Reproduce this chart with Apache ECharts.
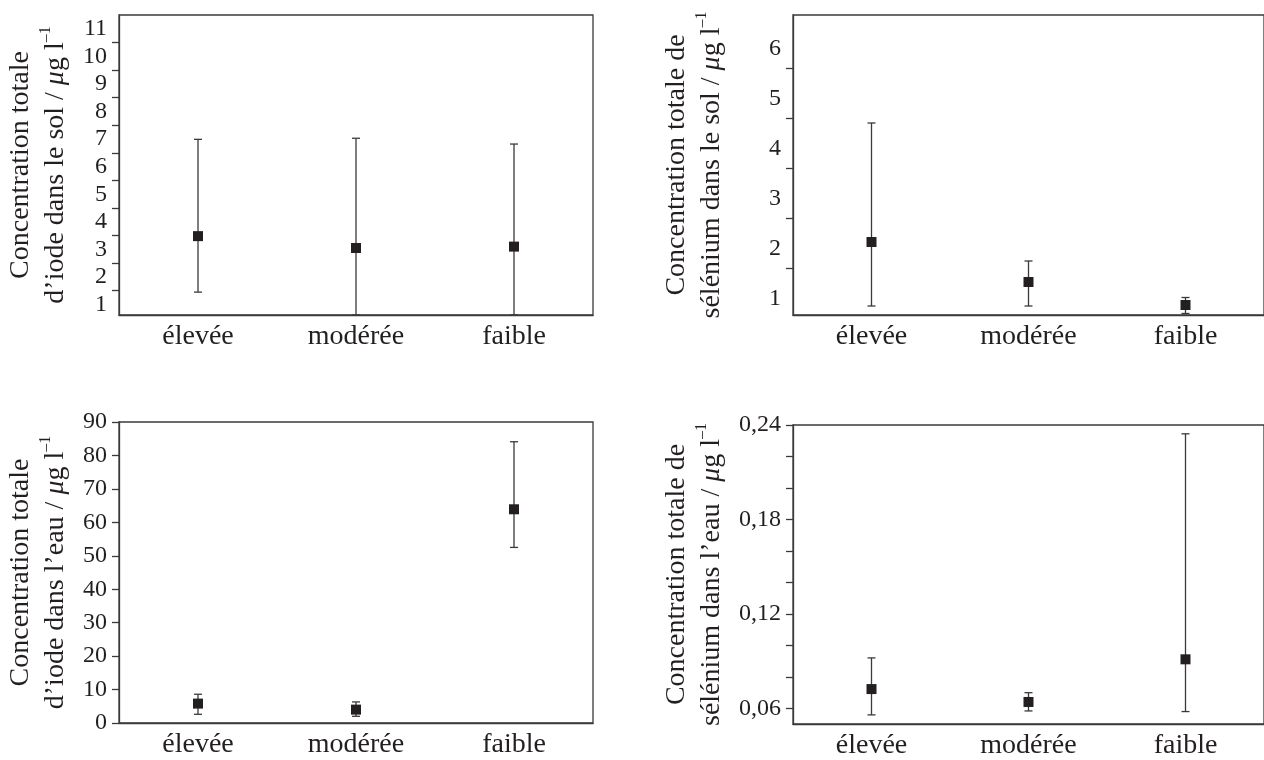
<!DOCTYPE html>
<html>
<head>
<meta charset="utf-8">
<script src="https://cdn.jsdelivr.net/npm/echarts@6/dist/echarts.min.js"></script>
<style>
html,body{margin:0;padding:0;background:#fff;}
#chart{width:1264px;height:760px;}
</style>
</head>
<body>
<div id="chart"></div>
<script>
// ---- data ----
const categories = ['élevée', 'modérée', 'faible'];

const iodeSolMean = [3.48, 3.05, 3.10];
const iodeSolLow  = [1.45, 0.62, 0.62];
const iodeSolHigh = [6.99, 7.03, 6.82];

const seleniumSolMean = [2.13, 1.33, 0.87];
const seleniumSolLow  = [0.85, 0.85, 0.70];
const seleniumSolHigh = [4.51, 1.75, 1.02];

const iodeEauMean = [5.8, 4.0, 63.9];
const iodeEauLow  = [2.6, 2.0, 52.5];
const iodeEauHigh = [8.6, 6.3, 84.1];

const seleniumEauMean = [0.0722, 0.0640, 0.0911];
const seleniumEauLow  = [0.0558, 0.0583, 0.0579];
const seleniumEauHigh = [0.0920, 0.0699, 0.2344];

// tick labels / tick marks
const iodeSolLabels = [1, 2, 3, 4, 5, 6, 7, 8, 9, 10, 11];
const iodeSolTicks  = [1.5, 2.5, 3.5, 4.5, 5.5, 6.5, 7.5, 8.5, 9.5, 10.5];
const seleniumSolLabels = [1, 2, 3, 4, 5, 6];
const seleniumSolTicks  = [1.6, 2.6, 3.6, 4.6, 5.6];
const iodeEauLabels = [0, 10, 20, 30, 40, 50, 60, 70, 80, 90];
const iodeEauTicks  = [0, 10, 20, 30, 40, 50, 60, 70, 80, 90];
const seleniumEauLabels = [0.06, 0.12, 0.18, 0.24];
const seleniumEauTicks  = [0.06, 0.08, 0.10, 0.12, 0.14, 0.16, 0.18, 0.20, 0.22, 0.24];

// ---- styling ----
const INK = '#231f20';
const LINE = '#3a3a3a';
const FONT = '"Liberation Serif", "Times New Roman", serif';

const chart = echarts.init(document.getElementById('chart'), null, {renderer: 'canvas'});

const grids = [
  {left: 119, top: 15, width: 474, height: 300},
  {left: 793, top: 15, width: 480, height: 300},
  {left: 119, top: 422, width: 474, height: 301},
  {left: 793, top: 425, width: 480, height: 301}
];

function nameStyle() {
  return {
    fontFamily: FONT, fontSize: 28, color: INK, lineHeight: 35,
    rich: {
      i: {fontFamily: FONT, fontSize: 28, fontStyle: 'italic', color: INK, lineHeight: 35},
      sup: {fontFamily: FONT, fontSize: 16, color: INK, verticalAlign: 'top', lineHeight: 16}
    }
  };
}

function yAxis(idx, min, max, labels, ticks, name, gap, fmt) {
  return {
    type: 'value', gridIndex: idx, min: min, max: max,
    name: name, nameLocation: 'middle', nameRotate: 90, nameGap: gap,
    nameTextStyle: nameStyle(),
    axisLine: {show: true, lineStyle: {color: LINE, width: 1.3}},
    axisTick: {show: true, inside: false, length: 7, customValues: ticks, lineStyle: {color: LINE, width: 1.3}},
    axisLabel: {show: true, customValues: labels, margin: 12, fontFamily: FONT, fontSize: 24, color: INK,
      formatter: fmt || (v => String(v))},
    splitLine: {show: false}
  };
}

function xAxis(idx) {
  return {
    type: 'category', gridIndex: idx, data: categories, boundaryGap: true,
    axisLine: {show: true, lineStyle: {color: LINE, width: 1.3}},
    axisTick: {show: false},
    axisLabel: {margin: 8, fontFamily: FONT, fontSize: 28, color: INK},
    splitLine: {show: false}
  };
}

function errRender(params, api) {
  const x = api.value(0);
  const lo = api.coord([x, api.value(1)]);
  const hi = api.coord([x, api.value(2)]);
  const w = 4;
  const st = {stroke: LINE, lineWidth: 1.3};
  return {
    type: 'group',
    children: [
      {type: 'line', shape: {x1: lo[0], y1: lo[1], x2: hi[0], y2: hi[1]}, style: st},
      {type: 'line', shape: {x1: lo[0] - w, y1: lo[1], x2: lo[0] + w, y2: lo[1]}, style: st},
      {type: 'line', shape: {x1: hi[0] - w, y1: hi[1], x2: hi[0] + w, y2: hi[1]}, style: st}
    ]
  };
}

function seriesFor(idx, mean, low, high) {
  return [
    {
      type: 'custom', xAxisIndex: idx, yAxisIndex: idx, z: 2, clip: false,
      renderItem: errRender, encode: {x: 0, y: [1, 2]},
      data: categories.map((c, i) => [i, low[i], high[i]])
    },
    {
      type: 'scatter', xAxisIndex: idx, yAxisIndex: idx, z: 3,
      symbol: 'rect', symbolSize: 10, itemStyle: {color: INK, opacity: 1},
      data: categories.map((c, i) => [i, mean[i]])
    }
  ];
}

const commaFmt = v => v.toFixed(2).replace('.', ',');

const option = {
  backgroundColor: '#ffffff',
  animation: false,
  grid: grids.map(g => Object.assign({show: true, borderColor: LINE, borderWidth: 1.3, backgroundColor: 'transparent', containLabel: false}, g)),
  xAxis: [xAxis(0), xAxis(1), xAxis(2), xAxis(3)],
  yAxis: [
    yAxis(0, 0.62, 11.5, iodeSolLabels, iodeSolTicks,
      'Concentration totale\nd’iode dans le sol / {i|μ}g l{sup|–1}', 46),
    yAxis(1, 0.67, 6.67, seleniumSolLabels, seleniumSolTicks,
      'Concentration totale de\nsélénium dans le sol / {i|μ}g l{sup|–1}', 64),
    yAxis(2, 0, 90, iodeEauLabels, iodeEauTicks,
      'Concentration totale\nd’iode dans l’eau / {i|μ}g l{sup|–1}', 46),
    yAxis(3, 0.05, 0.24, seleniumEauLabels, seleniumEauTicks,
      'Concentration totale de\nsélénium dans l’eau / {i|μ}g l{sup|–1}', 64, commaFmt)
  ],
  series: [].concat(
    seriesFor(0, iodeSolMean, iodeSolLow, iodeSolHigh),
    seriesFor(1, seleniumSolMean, seleniumSolLow, seleniumSolHigh),
    seriesFor(2, iodeEauMean, iodeEauLow, iodeEauHigh),
    seriesFor(3, seleniumEauMean, seleniumEauLow, seleniumEauHigh)
  )
};

chart.setOption(option);
</script>
</body>
</html>
